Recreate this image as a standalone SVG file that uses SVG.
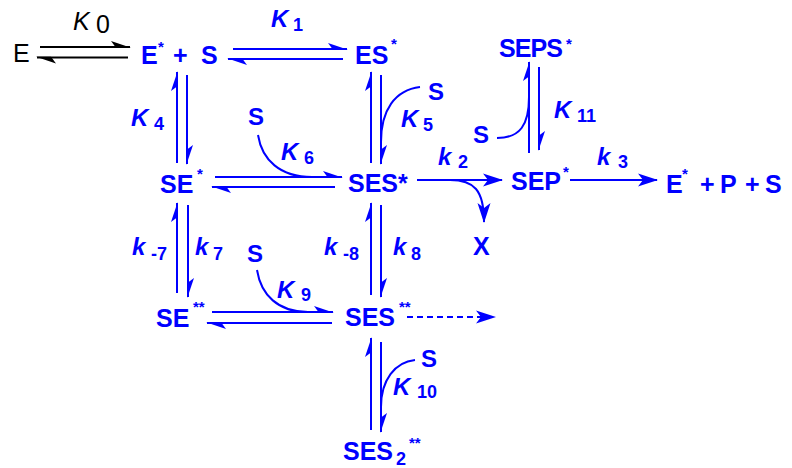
<svg xmlns="http://www.w3.org/2000/svg" width="792" height="468" viewBox="0 0 792 468">
<defs>
<style>
.sp{font-family:"Liberation Sans",Arial,sans-serif;font-weight:bold;font-size:25px;fill:#0000ff}
.s{font-family:"Liberation Sans",Arial,sans-serif;font-weight:bold;font-size:24px;fill:#0000ff}
.k{font-family:"Liberation Sans",Arial,sans-serif;font-weight:bold;font-style:italic;font-size:24px;fill:#0000ff}
.sub{font-family:"Liberation Sans",Arial,sans-serif;font-weight:bold;font-size:18px;fill:#0000ff}
.sup{font-family:"Liberation Sans",Arial,sans-serif;font-weight:bold;font-size:15px;fill:#0000ff}
.blk{font-family:"Liberation Sans",Arial,sans-serif;font-size:25px;fill:#000}
.ln{stroke:#0000ff;stroke-width:2;fill:none}
.lb{stroke:#000;stroke-width:2;fill:none}
.hp{marker-end:url(#h)}
.hb{marker-end:url(#hk)}
.fa{marker-end:url(#a)}
</style>
<marker id="h" markerUnits="userSpaceOnUse" viewBox="-22 -9 24 18" refX="0" refY="0" markerWidth="24" markerHeight="18" orient="auto"><path d="M1,0.7 L-19,-6 L-14,0.7 Z" fill="#0000ff"/></marker>
<marker id="hk" markerUnits="userSpaceOnUse" viewBox="-22 -9 24 18" refX="0" refY="0" markerWidth="24" markerHeight="18" orient="auto"><path d="M1,0.7 L-19,-6 L-14,0.7 Z" fill="#000"/></marker>
<marker id="a" markerUnits="userSpaceOnUse" viewBox="-22 -9 24 18" refX="0" refY="0" markerWidth="24" markerHeight="18" orient="auto"><path d="M1,0 L-19,-6.5 L-14,0 L-19,6.5 Z" fill="#0000ff"/></marker>
</defs>

<g id="connectors">
<line class="lb hb" x1="40" y1="47" x2="130" y2="47"/>
<line class="lb hb" x1="128" y1="57.5" x2="37" y2="57.5"/>
<line class="ln hp" x1="233" y1="49" x2="347" y2="49"/>
<line class="ln hp" x1="343" y1="59" x2="228" y2="59"/>
<line class="ln hp" x1="177" y1="163" x2="177" y2="72"/>
<line class="ln hp" x1="187" y1="75" x2="187" y2="164"/>
<line class="ln hp" x1="371" y1="163" x2="371" y2="72"/>
<line class="ln hp" x1="381" y1="75" x2="381" y2="164"/>
<path class="ln" d="M420,87 C395,90 381,110 381,142"/>
<line class="ln hp" x1="215" y1="177" x2="342" y2="177"/>
<line class="ln hp" x1="335" y1="187" x2="212" y2="187"/>
<path class="ln" d="M258,135 C262,160 280,177 312,177"/>
<line class="ln hp" x1="529" y1="153" x2="529" y2="62"/>
<line class="ln hp" x1="539" y1="67" x2="539" y2="150"/>
<path class="ln" d="M497,138 C520,138 529,125 529,97"/>
<line class="ln fa" x1="417" y1="180" x2="502" y2="180"/>
<path class="ln fa" d="M450,180 C474,180 484,190 484,222"/>
<line class="ln fa" x1="570" y1="180" x2="657" y2="180"/>
<line class="ln hp" x1="177" y1="293" x2="177" y2="203"/>
<line class="ln hp" x1="188" y1="205" x2="188" y2="297"/>
<line class="ln hp" x1="371" y1="295" x2="371" y2="203"/>
<line class="ln hp" x1="381" y1="205" x2="381" y2="297"/>
<line class="ln hp" x1="212" y1="312" x2="333" y2="312"/>
<line class="ln hp" x1="332" y1="323" x2="207" y2="323"/>
<path class="ln" d="M257,270 C261,295 278,312 308,312"/>
<line class="ln fa" x1="407" y1="317" x2="495" y2="317" stroke-dasharray="6,4"/>
<line class="ln hp" x1="371" y1="430" x2="371" y2="338"/>
<line class="ln hp" x1="381" y1="342" x2="381" y2="432"/>
<path class="ln" d="M415,360 C395,362 381,380 381,407"/>
</g>

<g id="E"><text class="blk" x="13" y="62">E</text></g>
<g id="K0"><text class="blk" x="73" y="30" font-style="italic" font-size="26px">K</text><text class="blk" x="96" y="33" font-size="20px">0</text></g>

<g id="EplusS"><text class="sp" x="141" y="64">E</text><text class="sup" x="158" y="52">*</text><text class="sp" x="173" y="64">+</text><text class="sp" x="201" y="64">S</text></g>
<g id="K1"><text class="k" x="271" y="27">K</text><text class="sub" x="293" y="31">1</text></g>
<g id="ES"><text class="sp" x="355" y="64">ES</text><text class="sup" x="391" y="49">*</text></g>
<g id="SEPS"><text class="sp" x="499" y="57" textLength="64" lengthAdjust="spacing">SEPS</text><text class="sup" x="566" y="49">*</text></g>

<g id="K4"><text class="k" x="131" y="126">K</text><text class="sub" x="154" y="130">4</text></g>
<g id="S5"><text class="s" x="428" y="100">S</text></g>
<g id="K5"><text class="k" x="401" y="127">K</text><text class="sub" x="423" y="131">5</text></g>
<g id="S6"><text class="s" x="248" y="125">S</text></g>
<g id="K6"><text class="k" x="281" y="160">K</text><text class="sub" x="304" y="164">6</text></g>
<g id="S11"><text class="s" x="473" y="143">S</text></g>
<g id="K11"><text class="k" x="554" y="118">K</text><text class="sub" x="577" y="122">11</text></g>

<g id="SE1"><text class="sp" x="160" y="193">SE</text><text class="sup" x="197" y="179">*</text></g>
<g id="SES1"><text class="sp" x="348" y="192">SES*</text></g>
<g id="k2"><text class="k" x="438" y="165">k</text><text class="sub" x="458" y="168">2</text></g>
<g id="SEP"><text class="sp" x="511" y="190">SEP</text><text class="sup" x="563" y="177">*</text></g>
<g id="k3"><text class="k" x="597" y="165">k</text><text class="sub" x="618" y="168">3</text></g>
<g id="EPS"><text class="sp" x="666" y="193">E</text><text class="sup" x="682" y="179">*</text><text class="sp" x="700" y="193">+</text><text class="sp" x="720" y="193">P</text><text class="sp" x="745" y="193">+</text><text class="sp" x="765" y="193">S</text></g>
<g id="X"><text class="sp" x="473" y="255">X</text></g>

<g id="km7"><text class="k" x="132" y="255">k</text><text class="sub" x="151" y="260">-7</text></g>
<g id="k7"><text class="k" x="195" y="255">k</text><text class="sub" x="213" y="260">7</text></g>
<g id="S9"><text class="s" x="247" y="262">S</text></g>
<g id="K9"><text class="k" x="277" y="298">K</text><text class="sub" x="301" y="301">9</text></g>
<g id="km8"><text class="k" x="324" y="255">k</text><text class="sub" x="343" y="260">-8</text></g>
<g id="k8"><text class="k" x="393" y="255">k</text><text class="sub" x="411" y="260">8</text></g>

<g id="SE2"><text class="sp" x="156" y="327">SE</text><text class="sup" x="193" y="312">**</text></g>
<g id="SES2"><text class="sp" x="345" y="326">SES</text><text class="sup" x="399" y="312">**</text></g>

<g id="S10"><text class="s" x="421" y="367">S</text></g>
<g id="K10"><text class="k" x="393" y="395">K</text><text class="sub" x="417" y="398">10</text></g>
<g id="SES3"><text class="sp" x="343" y="460">SES</text><text class="sub" x="396" y="465">2</text><text class="sup" x="409" y="448">**</text></g>
</svg>
